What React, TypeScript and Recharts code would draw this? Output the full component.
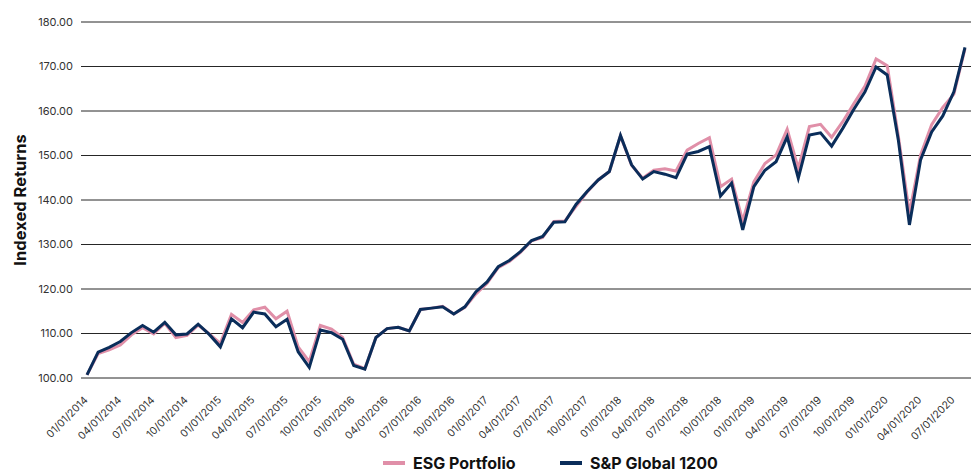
import React from "react";
import { LineChart, Line, XAxis, YAxis, CartesianGrid } from "recharts";

const months = ["01", "02", "03", "04", "05", "06", "07", "08", "09", "10", "11", "12"];
const years = ["2014", "2015", "2016", "2017", "2018", "2019", "2020"];
const categories: string[] = [];
years.forEach((yr) => months.forEach((m) => categories.push(`${m}/01/${yr}`)));
categories.splice(80);

const spGlobal = [
  100.7, 105.8, 106.9, 108.2, 110.2, 111.8, 110.3, 112.5, 109.7, 109.9,
  112.1, 109.8, 107.0, 113.3, 111.3, 114.8, 114.4, 111.5, 113.2, 105.9,
  102.4, 110.8, 110.2, 108.7, 102.8, 102.0, 109.1, 111.1, 111.4, 110.6,
  115.4, 115.7, 116.0, 114.4, 116.0, 119.4, 121.6, 125.0, 126.4, 128.4,
  130.9, 131.8, 135.0, 135.1, 139.0, 141.9, 144.5, 146.4, 154.5, 147.9,
  144.7, 146.4, 145.8, 145.0, 150.3, 150.9, 152.0, 140.9, 143.8, 133.3,
  143.0, 146.7, 148.6, 154.2, 144.9, 154.6, 155.1, 152.1, 156.1, 160.4,
  164.3, 169.9, 168.1, 153.5, 134.4, 149.0, 155.3, 158.9, 164.3, 174.3,
];

const esgPortfolio = [
  100.7, 105.5, 106.3, 107.4, 109.7, 111.3, 109.9, 112.3, 109.1, 109.6,
  111.9, 109.9, 107.8, 114.3, 112.5, 115.3, 115.9, 113.3, 115.0, 107.0,
  103.7, 111.8, 111.0, 109.1, 103.1, 102.1, 109.1, 111.1, 111.4, 110.6,
  115.4, 115.7, 116.1, 114.4, 115.9, 118.9, 121.3, 124.8, 126.2, 128.2,
  130.8, 131.6, 135.2, 135.3, 138.6, 141.8, 144.5, 146.4, 154.4, 147.8,
  144.9, 146.7, 147.0, 146.5, 151.2, 152.7, 154.0, 143.0, 144.7, 135.3,
  144.1, 148.2, 150.1, 155.9, 147.1, 156.5, 157.0, 154.1, 157.6, 161.7,
  165.6, 171.7, 170.2, 154.4, 137.0, 150.1, 156.9, 160.8, 163.8, 174.0,
];

const yTicks = [100, 110, 120, 130, 140, 150, 160, 170, 180];

const data = categories.map((date, i) => ({
  date,
  esg: esgPortfolio[i],
  sp: spGlobal[i],
}));

const FONT = "Inter, 'Noto Sans', sans-serif";
const PINK = "#E08FA8";
const NAVY = "#0A2D5A";

const XTick = (props: any) => {
  const { x, y, payload } = props;
  const ax = x - 1;
  const ay = y + 12;
  return (
    <text
      x={ax}
      y={ay}
      transform={`rotate(-45, ${ax}, ${ay})`}
      textAnchor="end"
      dy="0.35em"
      fontSize={10.5}
      fontFamily={FONT}
      fill="#333"
    >
      {payload.value}
    </text>
  );
};

export default function App() {
  return (
    <div style={{ position: "absolute", left: 0, top: 0, width: 976, height: 473, background: "#fff" }}>
      <LineChart
        width={976}
        height={473}
        data={data}
        margin={{ top: 22, right: 5, left: 0, bottom: 0 }}
      >
        <CartesianGrid vertical={false} stroke="#262626" strokeWidth={1} />
        <XAxis
          dataKey="date"
          interval={2}
          height={95}
          axisLine={false}
          tickLine={false}
          padding={{ left: 6, right: 6 }}
          tick={<XTick />}
        />
        <YAxis
          domain={[100, 180]}
          ticks={yTicks}
          width={81}
          axisLine={false}
          tickLine={false}
          tickFormatter={(v: number) => v.toFixed(2)}
          tick={{ fontSize: 11, fontFamily: FONT, fill: "#333" }}
          label={{
            value: "Indexed Returns",
            angle: -90,
            position: "insideLeft",
            offset: 20,
            style: { fontSize: 16.5, fontWeight: 700, fontFamily: FONT, fill: "#111", textAnchor: "middle" },
          }}
        />
        <Line
          type="linear"
          dataKey="esg"
          name="ESG Portfolio"
          stroke={PINK}
          strokeWidth={3}
          dot={false}
          isAnimationActive={false}
        />
        <Line
          type="linear"
          dataKey="sp"
          name="S&P Global 1200"
          stroke={NAVY}
          strokeWidth={3}
          dot={false}
          isAnimationActive={false}
        />
      </LineChart>
      <div
        style={{
          position: "absolute",
          top: 452,
          left: 0,
          width: 976,
          height: 22,
          fontFamily: FONT,
          fontSize: 16,
          fontWeight: 700,
          color: "#111",
        }}
      >
        <div style={{ position: "absolute", left: 383, top: 0, display: "flex", alignItems: "center", height: 22 }}>
          <span style={{ display: "inline-block", width: 22, height: 4, background: PINK, marginRight: 8 }} />
          <span>ESG Portfolio</span>
        </div>
        <div style={{ position: "absolute", left: 560, top: 0, display: "flex", alignItems: "center", height: 22 }}>
          <span style={{ display: "inline-block", width: 22, height: 4, background: NAVY, marginRight: 8 }} />
          <span>S&amp;P Global 1200</span>
        </div>
      </div>
    </div>
  );
}
